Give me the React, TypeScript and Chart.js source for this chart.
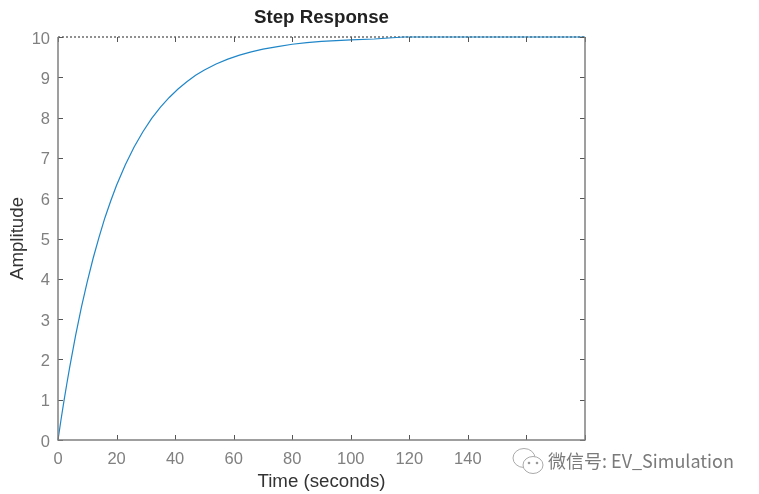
import { useEffect, useRef } from "react"
import { Chart, registerables } from "chart.js"

Chart.register(...registerables)

const times = [0, 1, 2, 3, 4, 6, 8, 10, 12, 14, 16, 18, 20, 23, 26, 29, 32, 35, 38, 41, 44, 47, 50, 54, 58, 62, 66, 70, 75, 80, 85, 90, 95, 100, 108, 118, 180]
const amplitude = [0, 0.49, 0.95, 1.39, 1.81, 2.59, 3.3, 3.93, 4.51, 5.03, 5.51, 5.93, 6.32, 6.83, 7.27, 7.65, 7.98, 8.26, 8.5, 8.71, 8.89, 9.05, 9.18, 9.33, 9.45, 9.55, 9.63, 9.7, 9.76, 9.82, 9.86, 9.89, 9.91, 9.93, 9.95, 10, 10]
const finalTimes = [0, 180]
const finalValues = [10, 10]
// the last two x labels are hidden behind the watermark in the original
const xTickLabels = ["0", "20", "40", "60", "80", "100", "120", "140", "", ""]

const FRAME = "#808080"
const FONT = "'Liberation Sans', Arial, sans-serif"

// matlab style frame: inward ticks on all sides, no line on top
const framePlugin = {
  id: "frame",
  afterDatasetsDraw(chart: any) {
    const { ctx, chartArea: a, scales } = chart
    ctx.save()
    ctx.strokeStyle = "#555"
    ctx.lineWidth = 1
    ctx.beginPath()
    scales.x.ticks.forEach((t: any) => {
      const p = Math.round(scales.x.getPixelForValue(t.value)) + 0.5
      ctx.moveTo(p, a.bottom)
      ctx.lineTo(p, a.bottom - 5)
      ctx.moveTo(p, a.top)
      ctx.lineTo(p, a.top + 5)
    })
    scales.y.ticks.forEach((t: any) => {
      const p = Math.round(scales.y.getPixelForValue(t.value)) + 0.5
      ctx.moveTo(a.left, p)
      ctx.lineTo(a.left + 5, p)
      ctx.moveTo(a.right, p)
      ctx.lineTo(a.right - 5, p)
    })
    ctx.stroke()
    ctx.strokeStyle = FRAME
    ctx.lineWidth = 1.5
    ctx.beginPath()
    ctx.moveTo(a.left, a.top)
    ctx.lineTo(a.left, a.bottom)
    ctx.lineTo(a.right, a.bottom)
    ctx.lineTo(a.right, a.top)
    ctx.stroke()
    ctx.restore()
  },
}

export default function App() {
  const chartRef = useRef<HTMLCanvasElement>(null)

  useEffect(() => {
    if (!chartRef.current) return
    const chart = new Chart(chartRef.current, {
      type: "line",
      data: {
        datasets: [
          {
            label: "Step",
            data: times.map((t, i) => ({ x: t, y: amplitude[i] })),
            borderColor: "#1f86c8",
            borderWidth: 1.2,
            pointRadius: 0,
            tension: 0,
            clip: false,
            order: 1,
          },
          {
            label: "Final value",
            data: finalTimes.map((t, i) => ({ x: t, y: finalValues[i] })),
            borderColor: "#222",
            borderWidth: 1,
            borderDash: [2, 2],
            pointRadius: 0,
            clip: false,
            order: 2,
          },
        ],
      },
      options: {
        animation: false,
        responsive: false,
        layout: { padding: { right: 174, top: 0, bottom: 0, left: 0 } },
        plugins: { legend: { display: false }, tooltip: { enabled: false } },
        scales: {
          x: {
            type: "linear",
            min: 0,
            max: 180,
            afterFit: (s: any) => { s.height = 54 },
            grid: { display: false },
            border: { display: false },
            afterBuildTicks: (s: any) => {
              s.ticks = xTickLabels.map((_, i) => ({ value: i * 20 }))
            },
            ticks: {
              autoSkip: false,
              maxRotation: 0,
              padding: 2,
              color: "#808080",
              font: { family: FONT, size: 16.5 },
              callback: (_v: any, i: number) => xTickLabels[i],
            },
            title: {
              display: true,
              text: "Time (seconds)",
              color: "#333",
              font: { family: FONT, size: 18.7 },
              padding: { top: 2, bottom: 1 },
            },
          },
          top: {
            type: "linear",
            position: "top",
            min: 0,
            max: 180,
            afterFit: (s: any) => { s.height = 37 },
            grid: { display: false },
            border: { display: false },
            ticks: { display: false },
            title: {
              display: true,
              text: "Step Response",
              color: "#222",
              font: { family: FONT, size: 18.7, weight: "bold" },
              padding: { top: 7, bottom: 0 },
            },
          },
          y: {
            min: 0,
            max: 10,
            afterFit: (s: any) => { s.width = 58 },
            grid: { display: false },
            border: { display: false },
            ticks: {
              stepSize: 1,
              padding: 0,
              labelOffset: 2,
              color: "#808080",
              font: { family: FONT, size: 16.5 },
            },
            title: {
              display: true,
              text: "Amplitude",
              color: "#333",
              font: { family: FONT, size: 18.7 },
              padding: { top: 7, bottom: 0 },
            },
          },
        },
      },
      plugins: [framePlugin],
    } as any)

    return () => chart.destroy()
  }, [])

  return (
    <div style={{ position: "fixed", left: 0, top: 0, width: 759, height: 494, background: "#fff" }}>
      <canvas ref={chartRef} width={759} height={494} style={{ display: "block" }} />
      <svg width="36" height="30" viewBox="0 0 36 30" style={{ position: "absolute", left: 511, top: 447 }}>
        <ellipse cx="13" cy="11" rx="11" ry="9.5" fill="#fff" stroke="#aaa" strokeWidth="1" />
        <ellipse cx="22" cy="18" rx="10" ry="8.5" fill="#fff" stroke="#aaa" strokeWidth="1" />
        <circle cx="18" cy="16" r="1.3" fill="#999" />
        <circle cx="26" cy="16" r="1.3" fill="#999" />
      </svg>
      <div
        style={{
          position: "absolute",
          left: 548,
          top: 449,
          fontFamily: "'Noto Sans CJK SC', 'Liberation Sans', sans-serif",
          fontSize: 18,
          lineHeight: "22px",
          color: "#7a7a7a",
          whiteSpace: "nowrap",
        }}
      >
        微信号: EV_Simulation
      </div>
    </div>
  )
}
